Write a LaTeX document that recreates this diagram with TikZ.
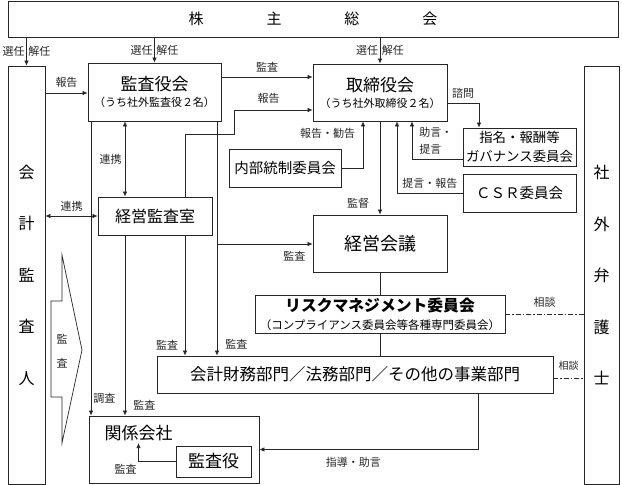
\documentclass[tikz,border=0pt]{standalone}
\usepackage{fontspec}
\setmainfont{Noto Sans CJK JP}
\usepackage{tikz}
\usetikzlibrary{arrows.meta}
\usetikzlibrary{positioning}
\newcommand{\schrift}[1]{\fontsize{#1}{#1}\selectfont}
\tikzset{
  Kasten/.style={draw=black!85, line width=.8pt, inner sep=1pt, align=center}, % für Kästen
  Strich/.style={draw=black!85, line width=.7pt}, % für Linien
  Pfeil/.style={Strich,->}, % für Pfeile
  DPfeil/.style={Strich,<->}, % für Doppelpfeile
  Beratung/.style={Strich, dash pattern=on 5pt off 2pt on 1.5pt off 2pt}, % für Strichpunktlinien
  Beschr/.style={font=\fontsize{11}{17}\selectfont, inner sep=1.5pt, text=black!85} % für Beschriftungen
}

\begin{document}
\begin{tikzpicture}[
x=1pt, y=-1pt,
>={Latex[length=5pt,width=4.5pt]} % Voreinstellung für Pfeilspitzen
]
\useasboundingbox (0,0) rectangle (622,485);

%Kästen
\node[Kasten, minimum width=610pt, minimum height=36pt, font=\schrift{15}] (kabunushi) at (313,19)
  {株\hspace{63pt}主\hspace{63pt}総\hspace{63pt}会};
\node[Kasten, minimum width=37pt, minimum height=418pt, font=\fontsize{16}{51.5}\selectfont] (kaikei) at (26.5,275)
  {会\\計\\監\\査\\人};
\node[Kasten, minimum width=35pt, minimum height=418pt, font=\fontsize{16}{51.5}\selectfont] (bengo) at (601.5,275)
  {社\\外\\弁\\護\\士};
\node[Kasten, minimum width=133pt, minimum height=58pt, font=\fontsize{11}{16}\selectfont] (kansayakukai) at (154.5,92)
  {{\schrift{17}監査役会}\\（うち社外監査役２名）};
\node[Kasten, minimum width=134pt, minimum height=57pt, font=\fontsize{11}{16}\selectfont] (torishimari) at (380,92.5)
  {{\schrift{17}取締役会}\\（うち社外取締役２名）};
\node[Kasten, minimum width=114pt, minimum height=38pt, font=\schrift{16}] (kansashitsu) at (155,216) {経営監査室};
\node[Kasten, minimum width=112pt, minimum height=38pt, font=\schrift{14.5}] (naibu) at (285,168) {内部統制委員会};
\node[Kasten, minimum width=113pt, minimum height=38pt, inner sep=0pt, font=\fontsize{13.4}{19}\selectfont] (shimei) at (519.5,147)
  {指名・報酬等\\ガバナンス委員会};
\node[Kasten, minimum width=113pt, minimum height=38pt, font=\schrift{14.5}] (csr) at (519.5,193) {ＣＳＲ委員会};
\node[Kasten, minimum width=134pt, minimum height=57pt, font=\schrift{18}] (keiei) at (380,243.5) {経営会議};
\node[Kasten, minimum width=250pt, minimum height=38pt, font=\fontsize{11.5}{18}\selectfont] (risk) at (380,314)
  {{\bfseries\schrift{15.8}リスクマネジメント委員会}\\（コンプライアンス委員会等各種専門委員会）};
\node[Kasten, minimum width=396pt, minimum height=37pt, font=\schrift{16.5}] (bumon) at (355,374.5)
  {会計財務部門／法務部門／その他の事業部門};
\node[Kasten, minimum width=170pt, minimum height=67pt] (kankei) at (174,449.5) {};
\node[font=\schrift{17}, inner sep=2pt] (kankeiT) at (138.5,433) {関係会社};
\node[Kasten, minimum width=75pt, minimum height=31pt, font=\schrift{17}] (kansayaku) at (213.5,461.5) {監査役};

%Blockpfeil links
\draw[Strich] (62,255) -- (82,350) -- (62,443) -- (62,397) -- (51,397) -- (51,301) -- (62,301) -- cycle;
\node[Beschr, align=center, inner sep=0pt, font=\fontsize{11}{24}\selectfont] (kansaPfeil) at (62,351) {監\\査};

%Pfeile vom Aktionärskreis
\draw[Pfeil] (kaikei.north |- kabunushi.south) -- node[Beschr,left]{選任} node[Beschr,right]{解任} (kaikei.north);
\draw[Pfeil] (kansayakukai.north |- kabunushi.south) -- node[Beschr,left]{選任} node[Beschr,right]{解任} (kansayakukai.north);
\draw[Pfeil] (torishimari.north |- kabunushi.south) -- node[Beschr,left]{選任} node[Beschr,right]{解任} (torishimari.north);

%Pfeile oben
\draw[Pfeil] (kaikei.east |- 0,93) -- node[Beschr,above=4pt]{報告} (kansayakukai.west |- 0,93);
\draw[Pfeil] (kansayakukai.east |- 0,77) -- node[Beschr,above=3pt]{監査} (torishimari.west |- 0,77);
\draw[Pfeil] (kansashitsu.north -| 185,0) |- (234,134) |- node[Beschr,above=5pt,pos=.72]{報告} (torishimari.west |- 0,110);
\draw[Pfeil] (torishimari.east |- 0,103) -| node[Beschr,above=3pt,pos=.25]{諮問} (shimei.north -| 479,0);
\draw[Pfeil] (naibu.east) -| node[Beschr,left=6pt,pos=.87]{報告・勧告} (torishimari.south -| 363,0);
\draw[Pfeil] (shimei.west |- 0,159) -| node[Beschr,right=5.5pt,pos=.74,align=left]{助言・\\提言} (torishimari.south -| 412,0);
\draw[Pfeil] (csr.west) -| node[Beschr,above=3pt,pos=.25]{提言・報告} (torishimari.south -| 397,0);
\draw[Pfeil] (torishimari.south) -- node[Beschr,left=9pt,pos=.88]{監督} (keiei.north);

%Verbindungen Mitte
\draw[DPfeil] (kansayakukai.south -| 125,0) -- node[Beschr,left=1.5pt]{連携} (kansashitsu.north -| 125,0);
\draw[DPfeil] (kaikei.east |- kansashitsu.west) -- node[Beschr,above=3pt]{連携} (kansashitsu.west);
\draw[Pfeil] (kansayakukai.south -| 91,0) -- node[Beschr,right=0.5pt,pos=.94]{調査} (kankei.north -| 91,0);
\draw[Pfeil] (kansashitsu.south -| 125,0) -- node[Beschr,right=6.5pt,pos=.94]{監査} (kankei.north -| 125,0);
\draw[Pfeil] (kansashitsu.south -| 185,0) -- node[Beschr,left=5pt,pos=.91]{監査} (bumon.north -| 185,0);
\draw[Pfeil] (kansayakukai.south -| 217,0) -- node[Beschr,right=6.5pt,pos=.95]{監査} (bumon.north -| 217,0);
\coordinate (abzw) at (217,244);
\draw[Pfeil] (abzw) -- node[Beschr,below=5pt,pos=.81]{監査} (keiei.west |- abzw);
\draw[Strich] (keiei.south) -- (risk.north);
\draw[Strich] (risk.south) -- (bumon.north -| risk.south);

%Beratung
\draw[Beratung] (risk.east) -- node[Beschr,above=5pt]{相談} (bengo.west |- risk.east);
\draw[Beratung] (bumon.east |- 0,378) -- node[Beschr,above=6pt,font=\schrift{10}]{相談} (bengo.west |- 0,378);

%Pfeile unten
\draw[Pfeil] (bumon.south -| 478,0) |- node[Beschr,below=6pt,pos=.785]{指導・助言} (kankei.east);
\draw[Pfeil] (kansayaku.west) -| node[Beschr,below left=1pt and 0pt,pos=.5]{監査} (kankeiT.south);

\end{tikzpicture}
\end{document}
